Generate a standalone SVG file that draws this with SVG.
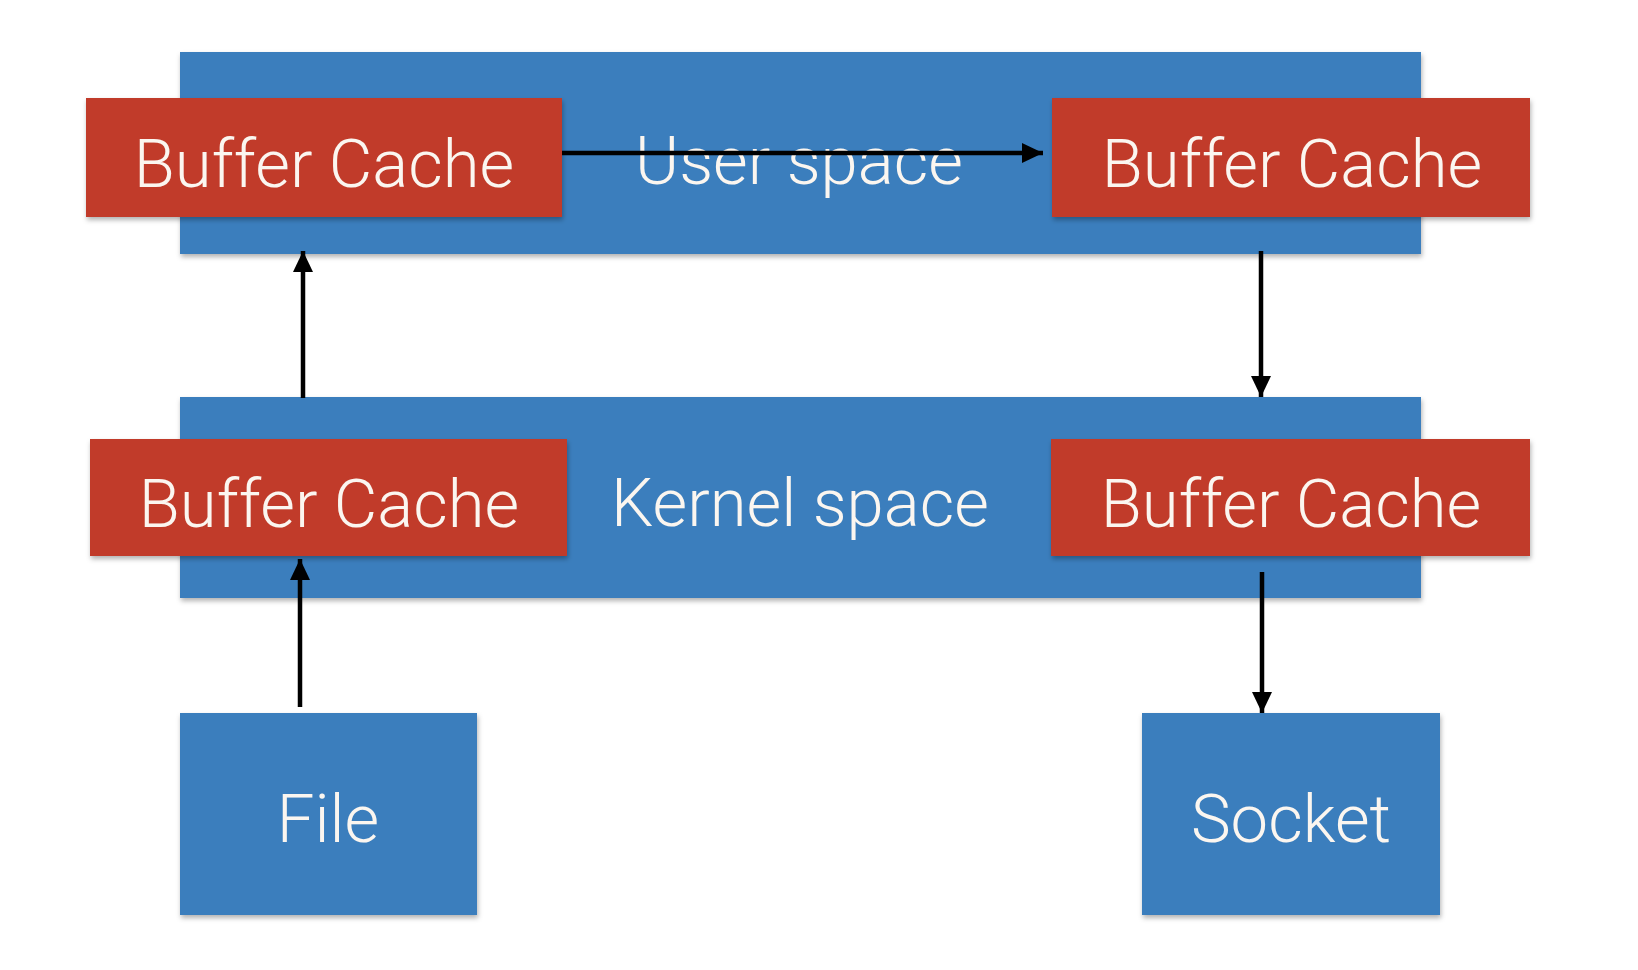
<svg xmlns="http://www.w3.org/2000/svg" width="1638" height="970" viewBox="0 0 1638 970">
  <style>
    .blue { fill: #3a7ebd; }
    .red { fill: #c13b2c; }
    .lbl { font-family: Roboto, "Liberation Sans", Arial, sans-serif; font-weight: 300; font-size: 67px; fill: #fbf6f0; text-anchor: middle; }
    .wire { stroke: #000; stroke-width: 4.5; fill: none; marker-end: url(#head); }
  </style>
  <defs>
    <filter id="shadow" x="-5%" y="-5%" width="110%" height="120%">
      <feDropShadow dx="1" dy="3" stdDeviation="2.5" flood-color="#000" flood-opacity="0.3"/>
    </filter>
    <marker id="head" markerUnits="userSpaceOnUse" markerWidth="22" markerHeight="22" viewBox="0 0 22 22" refX="21" refY="11" orient="auto">
      <path d="M0 1 L21 11 L0 21 Z" fill="#000"/>
    </marker>
  </defs>

  <!-- user space band -->
  <g id="user-space">
    <rect class="blue" x="180" y="52" width="1241" height="202" filter="url(#shadow)"/>
    <text class="lbl" x="799" y="184">User space</text>
  </g>

  <!-- kernel space band -->
  <g id="kernel-space">
    <rect class="blue" x="180" y="397" width="1241" height="201" filter="url(#shadow)"/>
    <text class="lbl" x="800" y="526">Kernel space</text>
  </g>

  <g id="user-buffer-left">
    <rect class="red" x="86" y="98" width="476" height="119" filter="url(#shadow)"/>
    <text class="lbl" x="324" y="187">Buffer Cache</text>
  </g>

  <g id="user-buffer-right">
    <rect class="red" x="1052" y="98" width="478" height="119" filter="url(#shadow)"/>
    <text class="lbl" x="1292" y="187">Buffer Cache</text>
  </g>

  <g id="kernel-buffer-left">
    <rect class="red" x="90" y="439" width="477" height="117" filter="url(#shadow)"/>
    <text class="lbl" x="329" y="527">Buffer Cache</text>
  </g>

  <g id="kernel-buffer-right">
    <rect class="red" x="1051" y="439" width="479" height="117" filter="url(#shadow)"/>
    <text class="lbl" x="1291" y="527">Buffer Cache</text>
  </g>

  <g id="file">
    <rect class="blue" x="180" y="713" width="297" height="202" filter="url(#shadow)"/>
    <text class="lbl" x="328" y="842">File</text>
  </g>

  <g id="socket">
    <rect class="blue" x="1142" y="713" width="298" height="202" filter="url(#shadow)"/>
    <text class="lbl" x="1291" y="842">Socket</text>
  </g>

  <!-- data path arrows -->
  <g id="connectors">
    <path class="wire" d="M300 707 L300 559"/>
    <path class="wire" d="M303 398 L303 251"/>
    <path class="wire" d="M562 153 L1043 153"/>
    <path class="wire" d="M1261 251 L1261 397"/>
    <path class="wire" d="M1262 572 L1262 713"/>
  </g>
</svg>
